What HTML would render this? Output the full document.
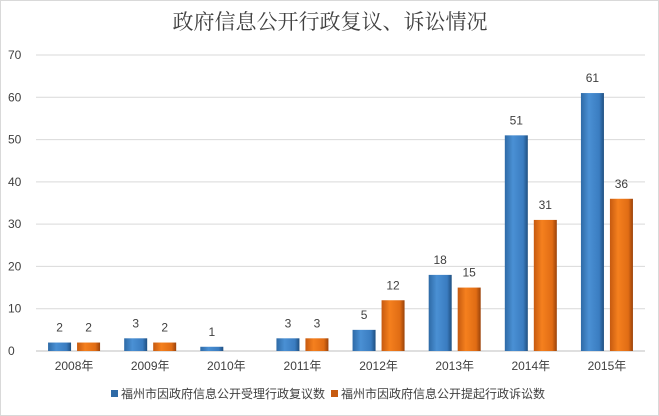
<!DOCTYPE html>
<html><head><meta charset="utf-8"><style>
body{margin:0;background:#fff}
svg{display:block}
text{font-family:"Liberation Sans","Noto Sans CJK SC",sans-serif;fill:#404040}
</style></head><body>
<svg id="c" width="659" height="416">
<defs>
<linearGradient id="gb" x1="0" x2="1"><stop offset="0" stop-color="#2e6aa6"/><stop offset="0.35" stop-color="#4a90d4"/><stop offset="0.8" stop-color="#3a7cc0"/><stop offset="1" stop-color="#1f4f80"/></linearGradient>
<linearGradient id="go" x1="0" x2="1"><stop offset="0" stop-color="#c65a10"/><stop offset="0.35" stop-color="#f5801e"/><stop offset="0.8" stop-color="#e06c14"/><stop offset="1" stop-color="#9a420a"/></linearGradient>
</defs>
<rect x="0.5" y="0.5" width="658" height="415" fill="#fff" stroke="#d9d9d9"/>
<text x="330" y="29" text-anchor="middle" font-size="21" style="font-family:'Liberation Serif','Noto Serif CJK SC',serif">政府信息公开行政复议、诉讼情况</text>
<g id="grid"></g><g id="bars"></g>
<g>
<rect x="111" y="390" width="7" height="7" fill="#2e6aa6"/>
<text x="121" y="398" font-size="12">福州市因政府信息公开受理行政复议数</text>
<rect x="331" y="390" width="7" height="7" fill="#c65a10"/>
<text x="341" y="398" font-size="12">福州市因政府信息公开提起行政诉讼数</text>
</g>
</svg>
<script>
const categories=["2008年","2009年","2010年","2011年","2012年","2013年","2014年","2015年"];
const reviewValues=[2,3,1,3,5,18,51,61];
const lawsuitValues=[2,2,0,3,12,15,31,36];
const yTicks=[0,10,20,30,40,50,60,70];
const NS="http://www.w3.org/2000/svg";
const x0=36,x1=645,y0=351,yTop=55,yMax=70;
const y=v=>y0-(v/yMax)*(y0-yTop);
const band=(x1-x0)/categories.length;
const cx=i=>x0+band*(i+0.5);
function mk(t,a,p){const e=document.createElementNS(NS,t);for(const k in a)e.setAttribute(k,a[k]);p.appendChild(e);return e;}
const grid=document.getElementById('grid'),bars=document.getElementById('bars');
yTicks.forEach(t=>{
 const l=mk('line',{x1:x0,x2:x1,y1:y(t),y2:y(t),stroke:t===0?'#bfbfbf':'#d9d9d9','stroke-width':1},grid);
 
 
 const tx=mk('text',{x:8,y:y(t)+4,'font-size':12},grid);tx.textContent=t;
 
 
});
const bw=23,gap=6;
categories.forEach((c,i)=>{
 const lb=mk('text',{x:cx(i),y:370,'text-anchor':'middle','font-size':12},grid);lb.textContent=c;
 
 
 [[reviewValues,'url(#gb)',-gap/2-bw,'review'],[lawsuitValues,'url(#go)',gap/2,'lawsuit']].forEach(([arr,f,off,n])=>{
  const v=arr[i];if(!v)return;
  const r=mk('rect',{x:cx(i)+off,y:y(v),width:bw,height:y0-y(v),fill:f},bars);
  
  
  const t=mk('text',{x:cx(i)+off+bw/2,y:y(v)-11,'text-anchor':'middle','font-size':12},bars);t.textContent=v;
  
  
 });
});
</script>
</body></html>
